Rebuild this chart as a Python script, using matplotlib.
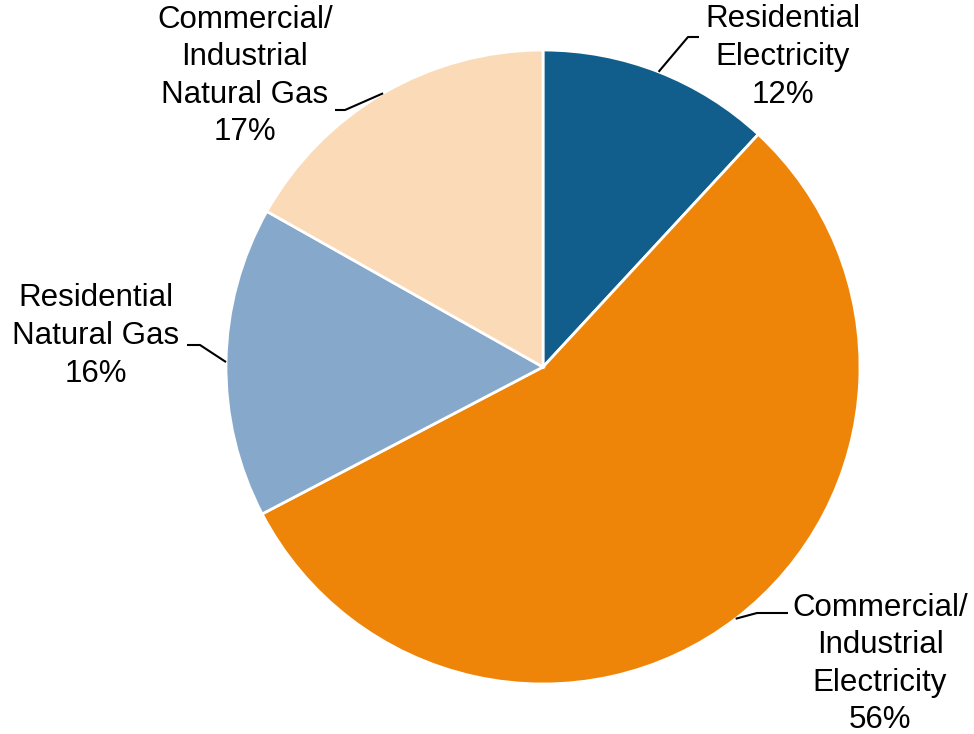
import matplotlib
matplotlib.use("Agg")
import matplotlib.pyplot as plt
import numpy as np

# Data
categories = ["Residential\nElectricity", "Commercial/\nIndustrial\nElectricity",
              "Residential\nNatural Gas", "Commercial/\nIndustrial\nNatural Gas"]
values = [12, 56, 16, 17]
pct_labels = ["12%", "56%", "16%", "17%"]
colors = ["#115E8C", "#EE8508", "#86A8CA", "#FBDBB7"]

W, H = 974, 734
fig = plt.figure(figsize=(W / 100, H / 100), dpi=100)
ax = fig.add_axes([0, 0, 1, 1])

def px(x, y):
    return (x, H - y)

cx, cy = px(543, 367)
R = 317
wedges, _ = ax.pie(values, colors=colors, startangle=90, counterclock=False,
                   center=(cx, cy), radius=R,
                   wedgeprops=dict(edgecolor="white", linewidth=2))
ax.set_xlim(0, W)
ax.set_ylim(0, H)
ax.set_aspect("equal")
ax.axis("off")

# label layout: (text center px, elbow px, end px)
layout = [
    ((783, 57), (688, 37), (699, 37)),
    ((880, 664), (757, 613), (788, 613)),
    ((96, 336), (200, 345), (187, 345)),
    ((245, 76), (345, 110), (335, 110)),
]

for w, cat, pct, (tpos, elbow, end) in zip(wedges, categories, pct_labels, layout):
    mid = np.deg2rad((w.theta1 + w.theta2) / 2)
    ex, ey = cx + R * np.cos(mid), cy + R * np.sin(mid)
    bx, by = px(*elbow)
    dx, dy = px(*end)
    ax.plot([ex, bx, dx], [ey, by, dy], color="black", lw=1.5,
            solid_capstyle="butt", zorder=5)
    tx, ty = px(*tpos)
    ax.text(tx, ty, cat + "\n" + pct, ha="center", va="center",
            fontsize=22.5, family=["Liberation Sans", "DejaVu Sans"],
            linespacing=1.33, color="black")

fig.savefig("out.png", dpi=100)
